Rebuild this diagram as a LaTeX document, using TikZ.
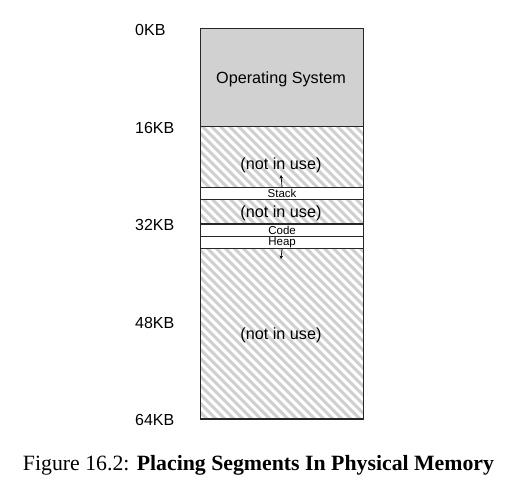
\documentclass[tikz,border=0pt]{standalone}
\usepackage{fontspec}
\setmainfont{Liberation Serif}
\newfontfamily\helv{Liberation Sans}
\usetikzlibrary{arrows.meta}
\tikzset{
  seg/.style={draw=black!85, line width=1.1pt},
  kb/.style={font=\helv\fontsize{16}{16}\selectfont, anchor=west, inner sep=0pt},
  big/.style={font=\helv\fontsize{16.2}{16.2}\selectfont, inner sep=0pt},
  small/.style={font=\helv\fontsize{11.5}{11.5}\selectfont, inner sep=0pt},
  hatch/.style={draw=black!19, line width=3pt},
  growarrow/.style={-{Stealth[length=3.5pt,width=3.5pt]}, line width=0.7pt}
}
\begin{document}
\begin{tikzpicture}[x=1pt,y=-1pt]
\useasboundingbox (0,0) rectangle (505,499);
\def\L{200}\def\R{363}
% hatched areas
\begin{scope}
\clip (\L,125.6) rectangle (\R,187) (\L,199) rectangle (\R,223.2) (\L,247.6) rectangle (\R,418);
\foreach \i in {-40,...,30} {
  \draw[hatch] (\L+\i*9,115) -- ++(320,320);
}
\end{scope}
% OS
\node[seg, fill=black!18, minimum width=163pt, minimum height=97.6pt, inner sep=0pt, anchor=north west] (os) at (\L,28) {};
\node[big] (ost) at (281,79) {Operating System};
% frames
\node[seg, minimum width=163pt, minimum height=61.4pt, inner sep=0pt, anchor=north west] (free1) at (\L,125.6) {};
\node[seg, fill=white, minimum width=163pt, minimum height=12.2pt, inner sep=0pt, anchor=north west] (stack) at (\L,186.8) {};
\node[small] (stackt) at ([yshift=-0.3pt]stack.center) {Stack};
\node[seg, minimum width=163pt, minimum height=24.4pt, inner sep=0pt, anchor=north west] (free2) at (\L,199) {};
\node[seg, fill=white, minimum width=163pt, minimum height=12.2pt, inner sep=0pt, anchor=north west] (code) at (\L,223.4) {};
\node[small] (codet) at ([yshift=-0.3pt]code.center) {Code};
\node[seg, fill=white, minimum width=163pt, minimum height=12.2pt, inner sep=0pt, anchor=north west] (heap) at (\L,235.6) {};
\node[small] (heapt) at ([yshift=-0.3pt]heap.center) {Heap};
\node[seg, minimum width=163pt, minimum height=170.6pt, inner sep=0pt, anchor=north west] (free3) at (\L,247.8) {};
% labels in unused areas
\node[big] (n1) at (281,165) {(not in use)};
\node[big] (n2) at (281,213.5) {(not in use)};
\node[big] (n3) at (281,335) {(not in use)};
% growth arrows
\coordinate (sa) at (281,175);
\coordinate (ha) at (281,259);
\draw[growarrow] (stack.north) -- (sa);
\draw[growarrow] (heap.south) -- (ha);
% KB labels
\node[kb] (k0) at (135,30) {0KB};
\node[kb] (k16) at (135,128) {16KB};
\node[kb] (k32) at (135,225) {32KB};
\node[kb] (k48) at (135,323) {48KB};
\node[kb] (k64) at (135,420) {64KB};
% caption
\node[font=\fontsize{21.8}{21.8}\selectfont, inner sep=0pt] (cap) at (258.5,465) {Figure 16.2: \textbf{Placing Segments In Physical Memory}};
\end{tikzpicture}
\end{document}
